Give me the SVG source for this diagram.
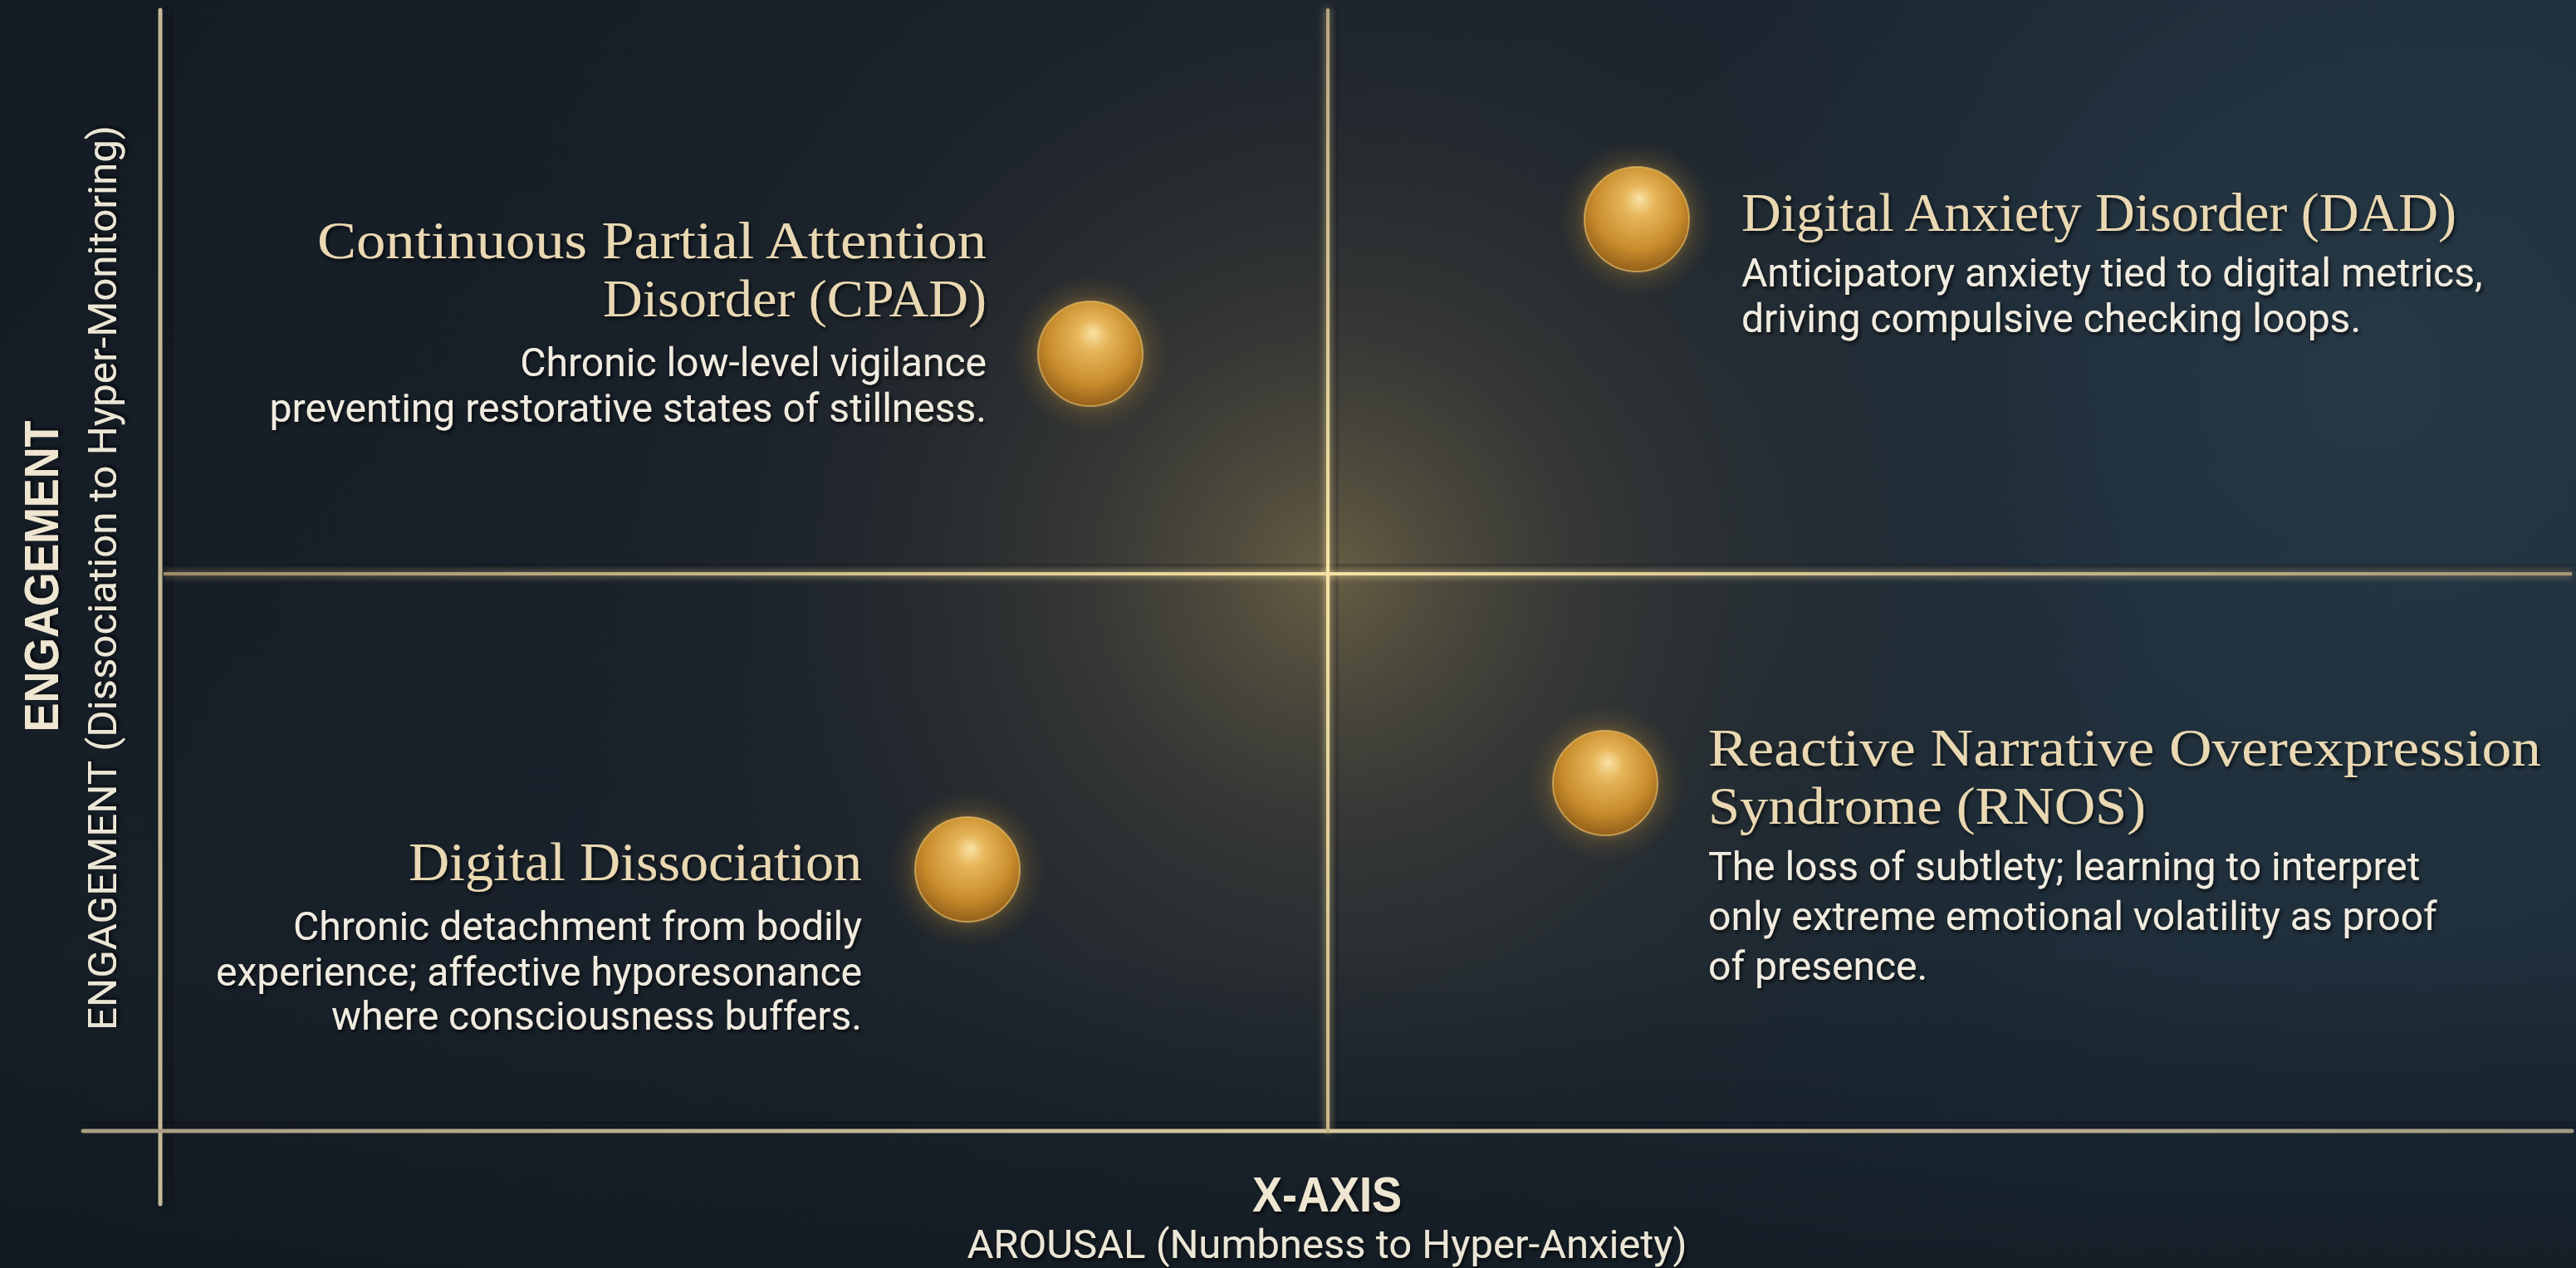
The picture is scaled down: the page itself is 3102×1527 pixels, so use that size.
<svg xmlns="http://www.w3.org/2000/svg" width="3102" height="1527" viewBox="0 0 3102 1527">
<defs>
<linearGradient id="bgBase" x1="0" y1="0" x2="1" y2="0.3">
<stop offset="0" stop-color="#141b24"/>
<stop offset="0.5" stop-color="#1a232d"/>
<stop offset="1" stop-color="#1d2c38"/>
</linearGradient>
<radialGradient id="warm" cx="1600" cy="690" r="1000" gradientUnits="userSpaceOnUse">
<stop offset="0" stop-color="#6a6044" stop-opacity="0.95"/>
<stop offset="0.3" stop-color="#48443a" stop-opacity="0.6"/>
<stop offset="0.7" stop-color="#2a2c2c" stop-opacity="0.2"/>
<stop offset="1" stop-color="#1a2028" stop-opacity="0"/>
</radialGradient>
<radialGradient id="blue" cx="2850" cy="450" r="900" gradientUnits="userSpaceOnUse">
<stop offset="0" stop-color="#2a3d4c" stop-opacity="0.7"/>
<stop offset="1" stop-color="#2a3d4c" stop-opacity="0"/>
</radialGradient>
<linearGradient id="vign" x1="0" y1="0" x2="0" y2="1">
<stop offset="0.75" stop-color="#0c1218" stop-opacity="0"/>
<stop offset="1" stop-color="#0c1218" stop-opacity="0.5"/>
</linearGradient>
<linearGradient id="hMid" x1="197" y1="0" x2="3097" y2="0" gradientUnits="userSpaceOnUse">
<stop offset="0" stop-color="#9a8c68"/>
<stop offset="0.48" stop-color="#f6e2a2"/>
<stop offset="1" stop-color="#a49674"/>
</linearGradient>
<linearGradient id="vMid" x1="0" y1="12" x2="0" y2="1362" gradientUnits="userSpaceOnUse">
<stop offset="0" stop-color="#b8a880"/>
<stop offset="0.5" stop-color="#f8e4a4"/>
<stop offset="1" stop-color="#c8b888"/>
</linearGradient>
<linearGradient id="hBot" x1="100" y1="0" x2="3097" y2="0" gradientUnits="userSpaceOnUse">
<stop offset="0" stop-color="#a89c80"/>
<stop offset="0.5" stop-color="#d8c8a0"/>
<stop offset="1" stop-color="#a49a82"/>
</linearGradient>
<radialGradient id="orb" cx="0.5" cy="0.4" r="0.6" fx="0.53" fy="0.3">
<stop offset="0" stop-color="#fbe2a6"/>
<stop offset="0.25" stop-color="#e6b65a"/>
<stop offset="0.7" stop-color="#c88c2c"/>
<stop offset="1" stop-color="#94601a"/>
</radialGradient>
<radialGradient id="halo" cx="0.5" cy="0.5" r="0.5">
<stop offset="0.55" stop-color="#e0a840" stop-opacity="0.5"/>
<stop offset="0.75" stop-color="#b08030" stop-opacity="0.18"/>
<stop offset="1" stop-color="#806020" stop-opacity="0"/>
</radialGradient>
<filter id="glow" x="-20%" y="-20%" width="140%" height="140%">
<feGaussianBlur stdDeviation="5" result="b"/>
<feMerge><feMergeNode in="b"/><feMergeNode in="SourceGraphic"/></feMerge>
</filter>
<filter id="blur6"><feGaussianBlur stdDeviation="6"/></filter>
<filter id="tsh" x="-5%" y="-20%" width="110%" height="140%">
<feDropShadow dx="2" dy="3" stdDeviation="2" flood-color="#000" flood-opacity="0.7"/>
</filter>
</defs>
<style>
.title{font-family:"Liberation Serif","Times New Roman",serif;font-size:66px;fill:#e9d8b2;filter:url(#tsh)}
.t2{font-size:63px}
.desc{font-family:Roboto,"Liberation Sans",Arial,sans-serif;font-size:48px;fill:#f1ece0;filter:url(#tsh)}
.axb{font-family:"Liberation Sans",Arial,sans-serif;font-weight:bold;fill:#efe6d2;filter:url(#tsh)}
.axr{font-family:Roboto,"Liberation Sans",Arial,sans-serif;fill:#ece6d6;filter:url(#tsh)}
.orbc{fill:url(#orb);stroke:#f2c870;stroke-opacity:0.6;stroke-width:2}
</style>

<rect width="3102" height="1527" fill="url(#bgBase)"/>
<rect width="3102" height="1527" fill="url(#blue)"/>
<rect width="3102" height="1527" fill="url(#warm)"/>
<rect width="3102" height="1527" fill="url(#vign)"/>

<g id="axes">
<rect x="198" y="12" width="10" height="1438" fill="#0a0e12" opacity="0.55" filter="url(#blur6)"/>
<rect x="197" y="680" width="2900" height="8" fill="#0a0e12" opacity="0.5" filter="url(#blur6)"/>
<rect x="100" y="1351" width="2997" height="8" fill="#0a0e12" opacity="0.55" filter="url(#blur6)"/>
<rect x="1603" y="12" width="8" height="1350" fill="#0a0e12" opacity="0.45" filter="url(#blur6)"/>
<line x1="193" y1="12" x2="193" y2="1450" stroke="#c4b898" stroke-width="5" stroke-linecap="round"/>
<line x1="100" y1="1362" x2="3097" y2="1362" stroke="url(#hBot)" stroke-width="5" stroke-linecap="round"/>
<g filter="url(#glow)">
<line x1="197" y1="691" x2="3097" y2="691" stroke="url(#hMid)" stroke-width="4"/>
<line x1="1599" y1="12" x2="1599" y2="1362" stroke="url(#vMid)" stroke-width="4" stroke-linecap="round"/>
</g>
</g>

<g id="y-axis-label">
<text class="axb" font-size="58" text-anchor="middle" textLength="375" lengthAdjust="spacingAndGlyphs" transform="translate(70,694) rotate(-90)">ENGAGEMENT</text>
<text class="axr" font-size="48" text-anchor="middle" textLength="1090" lengthAdjust="spacingAndGlyphs" transform="translate(140,696) rotate(-90)">ENGAGEMENT (Dissociation to Hyper-Monitoring)</text>
</g>

<g id="x-axis-label">
<text class="axb" font-size="60" text-anchor="middle" x="1598" y="1459" textLength="180" lengthAdjust="spacingAndGlyphs">X-AXIS</text>
<text class="axr" font-size="49" text-anchor="middle" x="1598" y="1515">AROUSAL (Numbness to Hyper-Anxiety)</text>
</g>

<g id="node-cpad">
<circle cx="1313" cy="426" r="95" fill="url(#halo)"/>
<circle class="orbc" cx="1313" cy="426" r="63"/>
<text class="title t2" text-anchor="end" x="1188" y="311" textLength="806" lengthAdjust="spacingAndGlyphs">Continuous Partial Attention</text>
<text class="title t2" text-anchor="end" x="1188" y="381" textLength="462" lengthAdjust="spacingAndGlyphs">Disorder (CPAD)</text>
<text class="desc" text-anchor="end"><tspan x="1188" y="453">Chronic low-level vigilance</tspan><tspan x="1188" y="508">preventing restorative states of stillness.</tspan></text>
</g>

<g id="node-dad">
<circle cx="1971" cy="264" r="95" fill="url(#halo)"/>
<circle class="orbc" cx="1971" cy="264" r="63"/>
<text class="title" x="2097" y="278" textLength="861" lengthAdjust="spacingAndGlyphs">Digital Anxiety Disorder (DAD)</text>
<text class="desc"><tspan x="2097" y="345">Anticipatory anxiety tied to digital metrics,</tspan><tspan x="2097" y="400">driving compulsive checking loops.</tspan></text>
</g>

<g id="node-dd">
<circle cx="1165" cy="1047" r="95" fill="url(#halo)"/>
<circle class="orbc" cx="1165" cy="1047" r="63"/>
<text class="title" text-anchor="end" x="1038" y="1060" textLength="546" lengthAdjust="spacingAndGlyphs">Digital Dissociation</text>
<text class="desc" text-anchor="end"><tspan x="1038" y="1132">Chronic detachment from bodily</tspan><tspan x="1038" y="1187">experience; affective hyporesonance</tspan><tspan x="1038" y="1240">where consciousness buffers.</tspan></text>
</g>

<g id="node-rnos">
<circle cx="1933" cy="943" r="95" fill="url(#halo)"/>
<circle class="orbc" cx="1933" cy="943" r="63"/>
<text class="title t2" x="2057" y="922" textLength="1003" lengthAdjust="spacingAndGlyphs">Reactive Narrative Overexpression</text>
<text class="title t2" x="2057" y="992" textLength="527" lengthAdjust="spacingAndGlyphs">Syndrome (RNOS)</text>
<text class="desc"><tspan x="2057" y="1060">The loss of subtlety; learning to interpret</tspan><tspan x="2057" y="1120">only extreme emotional volatility as proof</tspan><tspan x="2057" y="1180">of presence.</tspan></text>
</g>
</svg>
